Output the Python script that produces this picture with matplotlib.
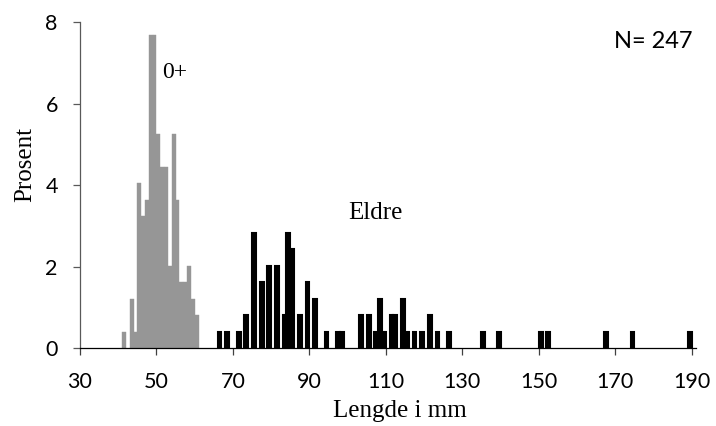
import matplotlib
matplotlib.use("Agg")
import matplotlib.pyplot as plt

# Lengths (mm) and number of fish per 1 mm class
N_TOTAL = 247

young_len = [41, 43, 44, 45, 46, 47, 48, 49, 50, 51, 52, 53, 54, 55, 56, 57, 58, 59, 60]
young_cnt = [1, 3, 1, 10, 8, 9, 19, 19, 13, 11, 11, 5, 13, 9, 4, 4, 5, 3, 2]

older_len = [66, 68, 71, 73, 75, 77, 79, 81, 83, 84, 85, 87, 89, 91, 94, 97, 98,
             103, 105, 107, 108, 109, 111, 112, 114, 115, 117, 119, 121, 123, 126,
             135, 139, 150, 152, 167, 174, 189]
older_cnt = [1, 1, 1, 2, 7, 4, 5, 5, 2, 7, 6, 2, 4, 3, 1, 1, 1,
             2, 2, 1, 3, 1, 2, 2, 3, 1, 1, 1, 2, 1, 1,
             1, 1, 1, 1, 1, 1, 1]

x_ticks = [30, 50, 70, 90, 110, 130, 150, 170, 190]
y_ticks = [0, 2, 4, 6, 8]

young_pct = [c / N_TOTAL * 100 for c in young_cnt]
older_pct = [c / N_TOTAL * 100 for c in older_cnt]

SERIF = "Liberation Serif"
SANS = "Lato"

fig = plt.figure(figsize=(7.16, 4.26), dpi=100)
ax = fig.add_axes([80 / 716, 77.7 / 426, 615.5 / 716, 326 / 426])

# 0+ (grey) and older fish (black, with outline so the bars look wider)
ax.bar(young_len, young_pct, width=1.0, align="edge", color="#969696",
       edgecolor="#969696", linewidth=0.3, zorder=2)
ax.bar(older_len, older_pct, width=1.0, align="edge", color="black",
       edgecolor="black", linewidth=1.5, zorder=2)

ax.set_xlim(30, 191)
ax.set_ylim(0, 8)
ax.set_xticks(x_ticks)
ax.set_xticklabels([str(v) for v in x_ticks], fontfamily=SANS, fontsize=15.5)
ax.set_yticks(y_ticks)
ax.set_yticklabels([str(v) for v in y_ticks], fontfamily=SANS, fontsize=15.5)

ax.spines["top"].set_visible(False)
ax.spines["right"].set_visible(False)
ax.spines["left"].set_color("#595959")
ax.spines["left"].set_linewidth(0.9)
ax.spines["bottom"].set_color("black")
ax.spines["bottom"].set_linewidth(0.9)
ax.tick_params(axis="x", direction="out", length=5, width=0.9, color="#404040", pad=12)
ax.tick_params(axis="y", direction="out", length=5, width=0.9, color="#595959", pad=11)

# Annotations
ax.text(54.8, 6.76, "0+", fontfamily=SERIF, fontsize=17, ha="center", va="center")
ax.text(107.4, 3.32, "Eldre", fontfamily=SERIF, fontsize=18, ha="center", va="center")
ax.text(179.9, 7.52, "N= 247", fontfamily=SANS, fontsize=17, ha="center", va="center")

fig.text(400 / 716, 9 / 426, "Lengde i mm", fontfamily=SERIF, fontsize=18,
         ha="center", va="baseline")
fig.text(25 / 716, (426 - 164) / 426, "Prosent", fontfamily=SERIF, fontsize=18,
         ha="center", va="center", rotation=90)

fig.savefig("out.png", dpi=100)
plt.close(fig)
